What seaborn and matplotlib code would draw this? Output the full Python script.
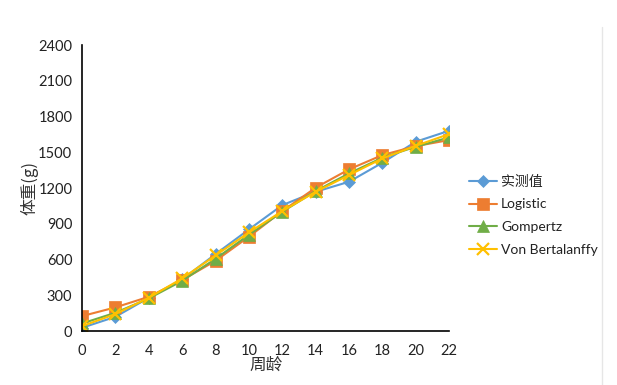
import numpy as np
import pandas as pd
import matplotlib
matplotlib.use('Agg')
import matplotlib.pyplot as plt
import seaborn as sns

# data
weeks = [0, 2, 4, 6, 8, 10, 12, 14, 16, 18, 20, 22]
measured = [28, 120, 280, 434, 646, 853, 1057, 1169, 1253, 1413, 1589, 1681]
logistic = [126, 199, 288, 428, 590, 792, 1007, 1203, 1357, 1477, 1552, 1603]
gompertz = [64, 154, 274, 422, 607, 808, 1001, 1175, 1323, 1455, 1547, 1625]
bertalanffy = [42, 143, 280, 442, 635, 828, 1007, 1169, 1309, 1449, 1555, 1653]

series_names = ['实测值', 'Logistic', 'Gompertz', 'Von Bertalanffy']
y_ticks = [0, 300, 600, 900, 1200, 1500, 1800, 2100, 2400]

sns.set_style('white')
plt.rcParams['font.family'] = ['Lato', 'Noto Sans CJK SC', 'DejaVu Sans']

fig = plt.figure(figsize=(6.17, 3.85), dpi=100)
ax = fig.add_axes([0.133, 0.140, 0.595, 0.743])

styles = [
    ('#5B9BD5', 'D', 6),
    ('#ED7D31', 's', 8),
    ('#70AD47', '^', 8),
    ('#FFC000', 'x', 9),
]
for vals, name, (col, mk, ms) in zip([measured, logistic, gompertz, bertalanffy], series_names, styles):
    sns.lineplot(x=weeks, y=vals, ax=ax, color=col, marker=mk, markersize=ms,
                 markeredgecolor=col, markeredgewidth=1.6 if mk == 'x' else 0.5,
                 linewidth=1.5, label=name)

ax.set_xlim(0, 22)
ax.set_ylim(0, 2400)
ax.set_xticks(weeks)
ax.set_yticks(y_ticks)
ax.tick_params(axis='y', direction='out', length=4, width=1, color='black', labelsize=10.5, pad=3)
ax.tick_params(axis='x', direction='in', length=5, width=1, color='black', labelsize=10.5, pad=9)
for s in ['top', 'right']:
    ax.spines[s].set_visible(False)
for s in ['left', 'bottom']:
    ax.spines[s].set_color('black')
    ax.spines[s].set_linewidth(1.2)
for lab in ax.get_xticklabels() + ax.get_yticklabels():
    lab.set_color('#222222')

ax.set_xlabel('周龄', fontsize=12, family=['Noto Sans CJK SC'], color='#333333')
ax.set_ylabel('体重(g)', fontsize=12, family=['Noto Sans CJK SC', 'DejaVu Sans'], color='#333333',
              va='center')
ax.xaxis.set_label_coords(0.5, -0.09)
ax.yaxis.set_label_coords(-0.142, 0.5)

leg = ax.legend(loc='center left', bbox_to_anchor=(1.02, 0.405), frameon=False,
                fontsize=10, handlelength=2.0, labelspacing=0.78, handletextpad=0.3)
for t in leg.get_texts():
    t.set_color('#222222')

# faint right border like the reference
fig.add_artist(plt.Line2D([0.975, 0.975], [0.0, 0.93], color='#e6e6e6', linewidth=1))

fig.savefig('out.png', dpi=100)
